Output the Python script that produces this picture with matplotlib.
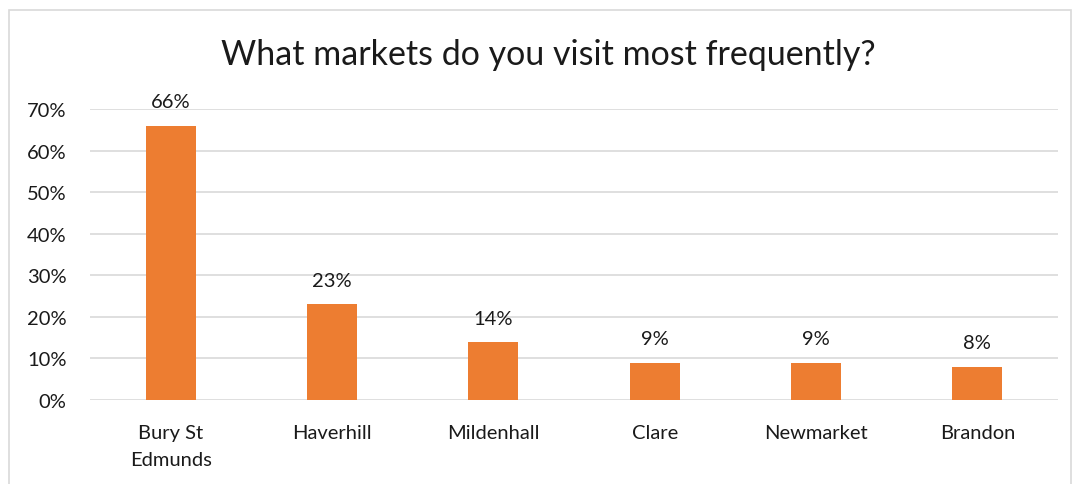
import matplotlib
matplotlib.use("Agg")
import matplotlib.pyplot as plt
from matplotlib.patches import Rectangle
from matplotlib.ticker import FuncFormatter, MultipleLocator

categories = ["Bury St\nEdmunds", "Haverhill", "Mildenhall", "Clare", "Newmarket", "Brandon"]
shares = [0.66, 0.23, 0.14, 0.09, 0.09, 0.08]
title = "What markets do you visit most frequently?"

plt.rcParams["font.family"] = ["Lato", "DejaVu Sans"]
text_color = "#1a1a1a"

fig = plt.figure(figsize=(10.74, 4.85), dpi=100)
fig.patch.set_facecolor("white")

# light chart-area border
fig.add_artist(Rectangle((9 / 1074, -0.1), (1071 - 9) / 1074, 1 - 11 / 485 + 0.1,
                         transform=fig.transFigure, fill=False,
                         edgecolor="#d9d9d9", linewidth=1.2))

ax = fig.add_axes([90 / 1074, 1 - 401 / 485, (1058 - 90) / 1074, (401 - 110) / 485])
x = range(len(categories))
bars = ax.bar(x, shares, width=0.31, color="#ED7D31", zorder=3)

ax.set_xlim(-0.5, len(categories) - 0.5)
ax.set_ylim(0, 0.70)
ax.yaxis.set_major_locator(MultipleLocator(0.10))
ax.yaxis.set_major_formatter(FuncFormatter(lambda v, _: f"{v:.0%}"))
ax.grid(axis="y", color="#d9d9d9", linewidth=1.2, zorder=0)
for s in ax.spines.values():
    s.set_visible(False)
ax.tick_params(axis="both", length=0, labelsize=14.5, colors=text_color)
ax.tick_params(axis="y", pad=17)
ax.tick_params(axis="x", pad=17)
ax.set_xticks(list(x))
ax.set_xticklabels(categories, linespacing=1.75)

for rect, v in zip(bars, shares):
    ax.annotate(f"{v:.0%}", (rect.get_x() + rect.get_width() / 2, v),
                xytext=(0, 11), textcoords="offset points",
                ha="center", va="bottom", fontsize=14.5, color=text_color)

fig.text(548 / 1074, 1 - 55 / 485, title, ha="center", va="center",
         fontsize=24.5, color=text_color)

fig.savefig("out.png", dpi=100)
